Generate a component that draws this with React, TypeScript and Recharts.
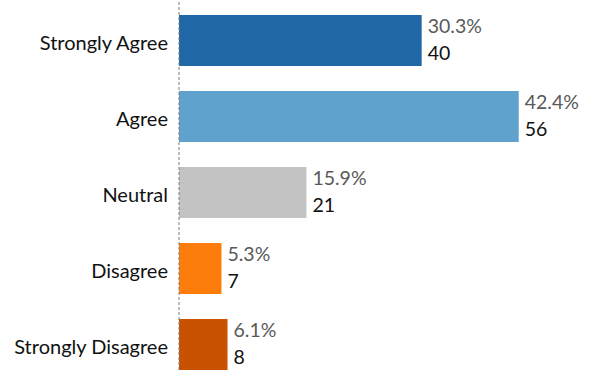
import React from 'react';
import { BarChart, Bar, XAxis, YAxis, Cell, LabelList } from 'recharts';

const categories = ['Strongly Agree', 'Agree', 'Neutral', 'Disagree', 'Strongly Disagree'];
const counts = [40, 56, 21, 7, 8];
const percents = ['30.3%', '42.4%', '15.9%', '5.3%', '6.1%'];
const colors = ['#1F67A5', '#5FA2CE', '#C3C3C3', '#FC7D0B', '#C85200'];

const data = categories.map((name, i) => ({ name, count: counts[i], pct: percents[i] }));

const FONT = 'Lato, "Liberation Sans", sans-serif';

const BarLabel = (props: any) => {
  const { x, y, width, height, index } = props;
  const tx = x + width + 6;
  const cy = y + height / 2;
  return (
    <g>
      <text x={tx} y={cy - 15} fill="#595959" fontSize={19.5} fontFamily={FONT} dominantBaseline="central">
        {percents[index]}
      </text>
      <text x={tx} y={cy + 12} fill="#111111" fontSize={19.5} fontFamily={FONT} dominantBaseline="central">
        {counts[index]}
      </text>
    </g>
  );
};

const YTick = (props: any) => {
  const { x, y, payload } = props;
  return (
    <text x={x} y={y + 2} textAnchor="end" dominantBaseline="central" fill="#111111" fontSize={20} fontFamily={FONT}>
      {payload.value}
    </text>
  );
};

export default function App() {
  return (
    <div style={{ position: 'absolute', left: 0, top: 0, width: 594, height: 371, overflow: 'hidden', background: '#fff' }}>
      <BarChart
        width={594}
        height={382}
        data={data}
        layout="vertical"
        margin={{ top: 2, right: 51, bottom: 0, left: 0 }}
        barSize={51}
      >
        <XAxis type="number" domain={[0, 60]} hide />
        <YAxis
          type="category"
          dataKey="name"
          width={179}
          tickLine={false}
          tickSize={0}
          tickMargin={11}
          axisLine={{ stroke: '#7F7F7F', strokeDasharray: '3 2' }}
          tick={<YTick />}
        />
        <Bar dataKey="count" isAnimationActive={false}>
          {data.map((d, i) => (
            <Cell key={d.name} fill={colors[i]} />
          ))}
          <LabelList dataKey="count" content={<BarLabel />} />
        </Bar>
      </BarChart>
    </div>
  );
}
